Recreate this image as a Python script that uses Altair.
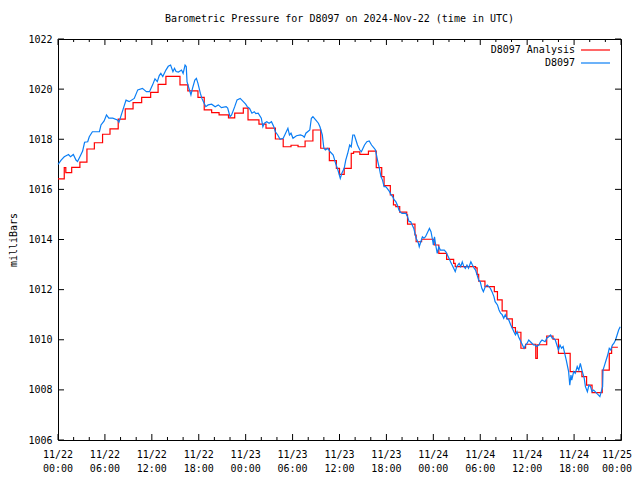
import altair as alt
import pandas as pd

# ---------------- data (hours since 2024-11-22 00:00 UTC, millibars) ----------------
red_hours = [0, 0.8, 1.0, 1.75, 2.8, 3.7, 4.65, 5.7, 6.65, 7.7, 8.6, 9.6, 10.7, 11.85,
             12.8, 13.8, 15.6, 16.6, 17.9, 18.7, 19.65, 20.6, 21.8, 22.6, 23.7, 24.3,
             25.7, 26.6, 27.8, 28.8, 29.8, 30.7, 31.6, 32.6, 33.6, 34.7, 35.6, 36.0,
             36.6, 37.5, 37.8, 38.6, 39.7, 40.7, 41.4, 41.7, 42.5, 42.9, 43.2, 43.7,
             44.6, 44.7, 45.65, 45.8, 46.5, 48.1, 48.7, 49.7, 50.6, 50.8, 53.4, 53.6,
             53.8, 54.6, 55.8, 56.2, 56.8, 57.4, 58.1, 58.5, 59.2, 59.8, 61.1, 61.3,
             62.5, 63.3, 64.0, 65.5, 67.0, 67.6, 68.3, 69.6, 70.5, 70.8, 71.6]
red_vals = [1016.42, 1016.87, 1016.67, 1016.88, 1017.09, 1017.61, 1017.86, 1018.20,
            1018.41, 1018.80, 1019.21, 1019.46, 1019.67, 1019.87, 1020.19, 1020.51,
            1020.17, 1019.93, 1019.67, 1019.17, 1019.06, 1018.97, 1018.85, 1019.04,
            1019.24, 1018.77, 1018.60, 1018.44, 1018.01, 1017.70, 1017.76, 1017.70,
            1017.93, 1018.37, 1017.64, 1017.15, 1016.84, 1016.60, 1016.84, 1017.44,
            1017.50, 1017.40, 1017.53, 1016.87, 1016.51, 1016.15, 1015.78, 1015.38,
            1015.31, 1015.09, 1014.98, 1014.61, 1014.18, 1013.91, 1014.01, 1013.78,
            1013.45, 1013.21, 1013.05, 1012.92, 1012.87, 1012.61, 1012.34, 1012.12,
            1011.92, 1011.59, 1011.15, 1010.83, 1010.48, 1010.30, 1009.66, 1009.82,
            1009.26, 1009.80, 1010.15, 1010.02, 1009.46, 1008.73, 1008.53, 1008.19,
            1007.89, 1008.79, 1009.46, 1009.70, 1009.70]

blue_hours = [0.0, 0.1, 0.4, 0.8, 1.35, 1.6, 1.96, 2.3, 2.5, 2.8, 3.15, 3.4, 3.8, 4.0,
              4.4, 5.3, 5.5, 5.9, 6.2, 6.5, 7.0, 7.6, 7.8, 8.3, 8.7, 9.1, 9.75, 10.2,
              10.8, 11.3, 11.7, 12.1, 12.4, 12.7, 12.95, 13.15, 13.4, 13.8, 14.1, 14.4,
              14.7, 14.9, 15.1, 15.4, 15.8, 16.0, 16.25, 16.4, 16.5, 16.75, 17.0, 17.2,
              17.5, 17.7, 17.9, 18.2, 18.4, 18.6, 18.9, 19.2, 19.65, 20.1, 20.5, 20.9,
              21.5, 21.7, 22.0, 22.2, 22.6, 22.9, 23.3, 23.7, 24.0, 24.2, 24.5, 24.8,
              25.1, 25.3, 25.6, 26.0, 26.2, 26.4, 26.7, 27.0, 27.3, 27.6, 27.8, 28.1,
              28.4, 28.8, 29.0, 29.4, 29.6, 29.8, 30.05, 30.5, 31.0, 31.3, 31.5, 31.7,
              32.2, 32.4, 32.6, 32.95, 33.3, 33.5, 33.8, 34.0, 34.2, 34.5, 34.8, 35.2,
              35.5, 35.8, 36.1, 36.3, 36.6, 36.8, 37.05, 37.3, 37.5, 37.7, 37.9, 38.1,
              38.3, 38.6, 38.8, 39.2, 39.5, 39.8, 40.1, 40.45, 40.6, 40.9, 41.1, 41.3,
              41.5, 41.7, 41.9, 42.1, 42.4, 42.6, 42.8, 43.0, 43.2, 43.4, 43.6, 43.8,
              44.0, 44.5, 44.7, 44.9, 45.1, 45.3, 45.5, 45.8, 46.1, 46.2, 46.4, 46.6,
              46.8, 47.0, 47.3, 47.5, 47.7, 47.9, 48.0, 48.15, 48.3, 48.5, 48.7, 48.9,
              49.2, 49.4, 49.6, 49.8, 50.0, 50.2, 50.4, 50.6, 50.8, 51.0, 51.3, 51.5,
              51.7, 51.9, 52.1, 52.3, 52.5, 52.8, 53.0, 53.2, 53.4, 53.6, 53.8, 54.0,
              54.2, 54.4, 54.65, 54.9, 55.1, 55.3, 55.5, 55.75, 55.9, 56.2, 56.4, 56.6,
              56.8, 57.0, 57.2, 57.4, 57.65, 57.9, 58.1, 58.3, 58.5, 58.7, 58.9, 59.2,
              59.4, 59.6, 59.8, 60.0, 60.2, 60.6, 60.8, 61.0, 61.2, 61.5, 61.7, 61.9,
              62.3, 62.5, 62.75, 63.0, 63.2, 63.4, 63.6, 63.8, 64.0, 64.2, 64.4, 64.6,
              64.8, 65.0, 65.3, 65.45, 65.6, 65.7, 65.95, 66.15, 66.4, 66.6, 66.8, 67.0,
              67.3, 67.45, 67.7, 67.9, 68.1, 68.3, 68.5, 68.7, 68.9, 69.1, 69.3, 69.65,
              69.7, 69.9, 70.1, 70.3, 70.5, 70.7, 70.9, 71.1, 71.3, 71.5, 71.7, 71.9]
blue_vals = [1017.00, 1017.04, 1017.17, 1017.30, 1017.39, 1017.30, 1017.39, 1017.17,
             1017.11, 1017.30, 1017.53, 1017.88, 1017.90, 1018.10, 1018.30, 1018.30,
             1018.57, 1018.73, 1018.97, 1018.84, 1018.84, 1018.77, 1018.68, 1019.17,
             1019.56, 1019.50, 1019.63, 1019.97, 1020.03, 1019.90, 1019.90, 1020.17,
             1020.41, 1020.30, 1020.54, 1020.63, 1020.50, 1020.76, 1020.91, 1020.96,
             1020.70, 1020.83, 1020.70, 1020.68, 1020.76, 1020.63, 1020.96, 1020.90,
             1020.30, 1020.03, 1019.77, 1020.03, 1020.36, 1020.43, 1020.23, 1019.84,
             1019.63, 1019.50, 1019.30, 1019.37, 1019.40, 1019.30, 1019.37, 1019.26,
             1019.30, 1019.24, 1018.90, 1018.97, 1019.30, 1019.57, 1019.63, 1019.50,
             1019.40, 1019.30, 1019.23, 1019.04, 1019.10, 1019.02, 1019.04, 1018.84,
             1018.50, 1018.64, 1018.70, 1018.64, 1018.70, 1018.50, 1018.30, 1018.17,
             1018.00, 1018.04, 1018.17, 1018.44, 1018.17, 1018.24, 1018.04, 1018.14,
             1018.17, 1018.14, 1018.08, 1018.24, 1018.37, 1018.84, 1018.90, 1018.77,
             1018.64, 1018.50, 1018.17, 1017.64, 1017.57, 1017.64, 1017.50, 1017.37,
             1017.04, 1016.77, 1016.44, 1016.64, 1016.84, 1017.17, 1017.44, 1017.77,
             1017.70, 1018.17, 1018.17, 1017.97, 1017.77, 1017.57, 1017.50, 1017.77,
             1017.90, 1017.93, 1017.77, 1017.64, 1017.57, 1017.11, 1016.84, 1016.51,
             1016.37, 1016.11, 1016.11, 1016.04, 1015.91, 1015.78, 1015.71, 1015.58,
             1015.51, 1015.38, 1015.18, 1015.08, 1015.04, 1015.04, 1014.91, 1014.71,
             1014.71, 1014.58, 1014.44, 1014.05, 1013.85, 1013.71, 1013.91, 1014.11,
             1014.05, 1014.11, 1014.31, 1014.44, 1014.31, 1013.98, 1013.78, 1014.11,
             1013.78, 1013.45, 1013.71, 1013.58, 1013.58, 1013.58, 1013.51, 1013.38,
             1013.25, 1013.11, 1012.98, 1012.85, 1012.72, 1012.92, 1013.05, 1012.92,
             1013.11, 1012.92, 1012.85, 1012.98, 1012.85, 1013.11, 1012.98, 1012.87,
             1012.78, 1012.58, 1012.38, 1012.31, 1012.05, 1011.92, 1012.12, 1012.18,
             1012.12, 1012.05, 1011.92, 1011.72, 1011.52, 1011.39, 1011.19, 1011.06,
             1011.00, 1010.86, 1011.00, 1010.86, 1010.79, 1010.59, 1010.46, 1010.32,
             1010.19, 1010.32, 1010.12, 1009.92, 1009.79, 1009.66, 1009.79, 1009.86,
             1009.99, 1009.86, 1009.79, 1009.79, 1009.73, 1009.79, 1009.92, 1009.99,
             1009.92, 1010.06, 1010.12, 1010.19, 1010.06, 1010.06, 1009.99, 1009.79,
             1009.59, 1009.79, 1009.66, 1009.73, 1009.46, 1009.19, 1008.73, 1008.19,
             1008.59, 1008.39, 1008.73, 1008.66, 1008.93, 1008.79, 1009.06, 1008.79,
             1008.46, 1008.13, 1007.93, 1008.19, 1008.13, 1007.93, 1007.99, 1007.93,
             1007.86, 1007.80, 1007.73, 1008.13, 1008.79, 1008.99, 1009.19, 1009.39,
             1009.66, 1009.59, 1009.79, 1009.86, 1009.99, 1010.19, 1010.39, 1010.52]

y_ticks = [1006, 1008, 1010, 1012, 1014, 1016, 1018, 1020, 1022]
x_major = [0, 6, 12, 18, 24, 30, 36, 42, 48, 54, 60, 66, 72]
x_minor = [2, 4, 8, 10, 14, 16, 20, 22, 26, 28, 32, 34, 38, 40, 44, 46, 50, 52,
           56, 58, 62, 64, 68, 70]
x_labels = ["11/22\n00:00", "11/22\n06:00", "11/22\n12:00", "11/22\n18:00",
            "11/23\n00:00", "11/23\n06:00", "11/23\n12:00", "11/23\n18:00",
            "11/24\n00:00", "11/24\n06:00", "11/24\n12:00", "11/24\n18:00",
            "11/25\n00:00"]
series_names = ["D8097 Analysis", "D8097"]
series_colors = ["#ff0000", "#0a7ef5"]
title_text = "Barometric Pressure for D8097 on 2024-Nov-22 (time in UTC)"

# ---------------- chart ----------------
W, H = 563, 401
FONT = "DejaVu Sans Mono"

red_df = pd.DataFrame({"h": red_hours, "p": red_vals})
blue_df = pd.DataFrame({"h": blue_hours, "p": blue_vals})
ytick_df = pd.DataFrame({"p": y_ticks})
xmaj_df = pd.DataFrame({"h": x_major, "lab": x_labels})
xmin_df = pd.DataFrame({"h": x_minor})

xs = alt.Scale(domain=[0, 72], nice=False, zero=False)
ys = alt.Scale(domain=[1006, 1022], nice=False, zero=False)
X = alt.X("h:Q", scale=xs, axis=None)
Y = alt.Y("p:Q", scale=ys, axis=alt.Axis(
    values=y_ticks, format="d", tickSize=0, domain=False, grid=False,
    labelFont=FONT, labelFontSize=10, labelColor="black", labelPadding=6,
    title="milliBars", titleFont=FONT, titleFontSize=10, titleFontWeight="normal",
    titleColor="black", titleX=-45, titleY=H / 2, titleAngle=270,
    titleAlign="center", titleBaseline="middle"))

red = alt.Chart(red_df).mark_line(interpolate="step-after", color=series_colors[0],
                                  strokeWidth=1.2).encode(x=X, y=Y)
blue = alt.Chart(blue_df).mark_line(color=series_colors[1], strokeWidth=1.2).encode(x=X, y=Y)

rule = dict(color="black", strokeWidth=1)
xmaj_b = alt.Chart(xmaj_df).mark_rule(**rule).encode(x=X, y=alt.value(H), y2=alt.value(H - 6))
xmaj_t = alt.Chart(xmaj_df).mark_rule(**rule).encode(x=X, y=alt.value(0), y2=alt.value(6))
xmin_b = alt.Chart(xmin_df).mark_rule(**rule).encode(x=X, y=alt.value(H), y2=alt.value(H - 3))
xmin_t = alt.Chart(xmin_df).mark_rule(**rule).encode(x=X, y=alt.value(0), y2=alt.value(3))
ytk_l = alt.Chart(ytick_df).mark_rule(**rule).encode(y=Y, x=alt.value(0), x2=alt.value(6))
ytk_r = alt.Chart(ytick_df).mark_rule(**rule).encode(y=Y, x=alt.value(W), x2=alt.value(W - 6))

label_style = dict(font=FONT, fontSize=10, color="black", baseline="top",
                   lineBreak="\n", lineHeight=14)
xlab = alt.Chart(xmaj_df.iloc[:-1]).mark_text(align="center", **label_style).encode(
    x=X, y=alt.value(H + 10), text="lab:N")
# last label nudged left so it stays inside the 624px page width
xlab_last = alt.Chart(xmaj_df.iloc[-1:]).mark_text(align="center", dx=-4, **label_style).encode(
    x=X, y=alt.value(H + 10), text="lab:N")

title = alt.Chart(pd.DataFrame({"t": [title_text]})).mark_text(
    font=FONT, fontSize=10, color="black", align="center", baseline="middle").encode(
    x=alt.value(W / 2), y=alt.value(-20), text="t:N")

leg1_t = alt.Chart(pd.DataFrame({"t": [series_names[0]]})).mark_text(
    font=FONT, fontSize=10, color="black", align="right", baseline="middle").encode(
    x=alt.value(517), y=alt.value(11), text="t:N")
leg2_t = alt.Chart(pd.DataFrame({"t": [series_names[1]]})).mark_text(
    font=FONT, fontSize=10, color="black", align="right", baseline="middle").encode(
    x=alt.value(517), y=alt.value(24), text="t:N")
leg1_l = alt.Chart(pd.DataFrame({"t": [series_names[0]]})).mark_rule(
    color=series_colors[0], strokeWidth=1.2).encode(
    x=alt.value(523), x2=alt.value(552), y=alt.value(11))
leg2_l = alt.Chart(pd.DataFrame({"t": [series_names[1]]})).mark_rule(
    color=series_colors[1], strokeWidth=1.2).encode(
    x=alt.value(523), x2=alt.value(552), y=alt.value(24))

chart = alt.layer(
    red, blue, xmaj_b, xmaj_t, xmin_b, xmin_t, ytk_l, ytk_r, xlab, xlab_last, title,
    leg1_t, leg2_t, leg1_l, leg2_l
).properties(
    width=W, height=H,
    autosize=alt.AutoSizeParams(type="none"),
    padding={"left": 50, "top": 31, "right": 11, "bottom": 40},
    background="white",
).configure_view(stroke="black", strokeWidth=1)

chart.save("out.html", embed_options={"renderer": "svg", "actions": False})
